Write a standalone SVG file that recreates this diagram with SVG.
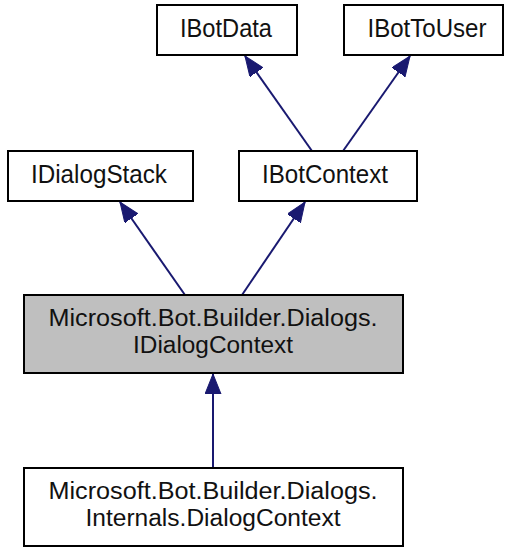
<svg xmlns="http://www.w3.org/2000/svg" width="508" height="548" viewBox="0 0 508 548">
<style>
.box{fill:#fff;stroke:#000;stroke-width:2}
.sel{fill:#bfbfbf;stroke:#000;stroke-width:2}
text{font-family:"Liberation Sans",Arial,sans-serif;font-size:25px;fill:#111;text-anchor:middle}
text.two{font-size:23.5px}
.edge{stroke:#191970;stroke-width:2;fill:none;marker-end:url(#ah)}
</style>
<defs>
<marker id="ah" markerWidth="22" markerHeight="18" refX="20" refY="8" orient="auto" markerUnits="userSpaceOnUse">
<path d="M0,0 L20,8 L0,16 Z" fill="#191970" stroke="#191970" stroke-width="1"/>
</marker>
</defs>
<g id="connectors">
<line class="edge" x1="312" y1="151" x2="245" y2="56"/>
<line class="edge" x1="343" y1="151" x2="410" y2="56"/>
<line class="edge" x1="185" y1="295" x2="120" y2="202"/>
<line class="edge" x1="242" y1="295" x2="305" y2="202"/>
<line class="edge" x1="213" y1="468" x2="213" y2="374"/>
</g>
<g id="IBotData">
<rect class="box" x="157" y="5" width="140" height="50"/>
<text x="226" y="37" textLength="92" lengthAdjust="spacingAndGlyphs">IBotData</text>
</g>
<g id="IBotToUser">
<rect class="box" x="344" y="5" width="159" height="50"/>
<text x="427" y="37" textLength="119" lengthAdjust="spacingAndGlyphs">IBotToUser</text>
</g>
<g id="IDialogStack">
<rect class="box" x="8" y="151" width="185" height="50"/>
<text x="99" y="182.5" textLength="136" lengthAdjust="spacingAndGlyphs">IDialogStack</text>
</g>
<g id="IBotContext">
<rect class="box" x="239" y="151" width="178" height="50"/>
<text x="325" y="182.5" textLength="126" lengthAdjust="spacingAndGlyphs">IBotContext</text>
</g>
<g id="IDialogContext">
<rect class="sel" x="24" y="295" width="379" height="78"/>
<text class="two" x="213" y="325.5" textLength="329" lengthAdjust="spacingAndGlyphs">Microsoft.Bot.Builder.Dialogs.</text>
<text class="two" x="213" y="352.5" textLength="160" lengthAdjust="spacingAndGlyphs">IDialogContext</text>
</g>
<g id="DialogContext">
<rect class="box" x="24" y="468" width="379" height="78"/>
<text class="two" x="213" y="499" textLength="329" lengthAdjust="spacingAndGlyphs">Microsoft.Bot.Builder.Dialogs.</text>
<text class="two" x="213" y="525.5" textLength="255" lengthAdjust="spacingAndGlyphs">Internals.DialogContext</text>
</g>
</svg>
